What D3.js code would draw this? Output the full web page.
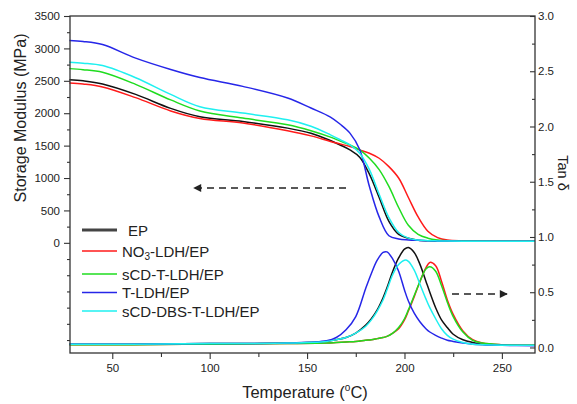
<!DOCTYPE html>
<html><head><meta charset="utf-8">
<script src="https://cdn.jsdelivr.net/npm/d3@7"></script>
<style>body{margin:0;background:#fff}svg{display:block}text{font-family:Arial,"Liberation Sans",sans-serif;fill:#222}</style>
</head><body><svg id="c" width="577" height="404"></svg>
<script>
// Storage modulus data (MPa)
const tempsE = [28, 35, 45, 62, 80, 95, 117, 140, 152, 162, 167, 172, 177, 182, 187, 192, 197, 202, 207, 212, 217, 222, 230, 245, 267];
const modEP      = [2518,2500,2451,2290,2075,1945,1873,1770,1690,1578,1510,1434,1321,1060,700,330,130,70,40,32,29,27,26,25,25];
const modNO3     = [2467,2450,2405,2240,2035,1918,1848,1728,1650,1563,1525,1485,1434,1383,1305,1176,1000,700,400,180,80,42,30,27,26];
const modSCDT    = [2688,2672,2631,2445,2205,2035,1925,1822,1730,1631,1570,1511,1434,1305,1130,870,545,270,130,72,45,33,27,25,25];
const modT       = [3122,3108,3060,2850,2675,2550,2414,2235,2080,1940,1830,1693,1440,870,400,110,60,45,38,33,30,28,26,25,25];
const modSCDDBS  = [2786,2772,2735,2548,2290,2100,2002,1899,1800,1666,1590,1511,1383,1130,750,390,160,72,42,33,30,28,26,25,25];
// Tan delta data
const tempsTan = [28, 60, 100, 140, 160, 165, 170, 175, 180, 183, 186, 189, 191, 194, 197, 200, 202, 205, 208, 211, 213, 216, 219, 222, 225, 230, 235, 240, 250, 267];
const tanEP     = [0.03,0.03,0.035,0.04,0.055,0.07,0.09,0.13,0.2,0.26,0.34,0.45,0.54,0.69,0.81,0.89,0.905,0.86,0.75,0.6,0.5,0.36,0.25,0.18,0.12,0.07,0.045,0.03,0.022,0.02];
const tanNO3    = [0.025,0.025,0.03,0.035,0.04,0.045,0.05,0.055,0.065,0.07,0.08,0.09,0.1,0.13,0.17,0.25,0.33,0.46,0.6,0.72,0.77,0.74,0.6,0.43,0.3,0.15,0.07,0.04,0.025,0.02];
const tanSCDT   = [0.025,0.025,0.03,0.035,0.04,0.045,0.05,0.055,0.065,0.07,0.08,0.09,0.1,0.13,0.18,0.26,0.34,0.47,0.6,0.71,0.73,0.69,0.56,0.41,0.28,0.14,0.065,0.04,0.025,0.02];
const tanT      = [0.03,0.03,0.035,0.04,0.06,0.09,0.16,0.28,0.53,0.67,0.79,0.86,0.865,0.8,0.69,0.52,0.42,0.31,0.23,0.17,0.14,0.11,0.085,0.065,0.055,0.04,0.03,0.025,0.02,0.015];
const tanSCDDBS = [0.03,0.03,0.035,0.04,0.055,0.07,0.09,0.13,0.19,0.25,0.33,0.43,0.52,0.66,0.75,0.79,0.78,0.7,0.57,0.44,0.36,0.26,0.17,0.11,0.075,0.045,0.03,0.025,0.02,0.02];

const seriesNames = ["EP", "NO3-LDH/EP", "sCD-T-LDH/EP", "T-LDH/EP", "sCD-DBS-T-LDH/EP"];
const seriesColors = ["#111111", "#ff1a1a", "#1fdc1f", "#2626e8", "#1ff0f0"];
const modSeries = [modEP, modNO3, modSCDT, modT, modSCDDBS];
const tanSeries = [tanEP, tanNO3, tanSCDT, tanT, tanSCDDBS];

const xTicks = [50, 100, 150, 200, 250];
const leftTicks = [0, 500, 1000, 1500, 2000, 2500, 3000, 3500];
const rightTicks = [0, 0.5, 1.0, 1.5, 2.0, 2.5, 3.0];

const L = 70, R = 535, T = 16, B = 353;
const svg = d3.select("#c");
const x = d3.scaleLinear().domain([28.3, 267]).range([L, R]);
const yL = d3.scaleLinear().domain([-1700, 3500]).range([B, T]);
const yR = d3.scaleLinear().domain([-0.05, 3.0]).range([B, T]);
const curve = d3.curveCatmullRom.alpha(0.5);

[0, 1, 2, 3, 4].forEach(i => {
  const line = d3.line().x((d, j) => x(tempsE[j])).y(d => yL(d)).curve(curve);
  svg.append("path").attr("d", line(modSeries[i])).attr("fill", "none")
    .attr("stroke", seriesColors[i]).attr("stroke-width", 1.5);
});
[0, 1, 2, 3, 4].forEach(i => {
  const line = d3.line().x((d, j) => x(tempsTan[j])).y(d => yR(d)).curve(curve);
  svg.append("path").attr("d", line(tanSeries[i])).attr("fill", "none")
    .attr("stroke", seriesColors[i]).attr("stroke-width", 1.5);
});

// frame
svg.append("rect").attr("x", L).attr("y", T).attr("width", R - L).attr("height", B - T)
  .attr("fill", "none").attr("stroke", "#333").attr("stroke-width", 1.3);

// bottom axis
svg.append("g").attr("transform", `translate(0,${B})`)
  .call(d3.axisBottom(x).tickValues(xTicks).tickSize(6).tickPadding(5).tickFormat(d3.format("d")));
svg.append("g").attr("transform", `translate(0,${B})`)
  .call(d3.axisBottom(x).tickValues([75, 125, 175, 225]).tickSize(4).tickFormat(""));
// left axis
svg.append("g").attr("transform", `translate(${L},0)`)
  .call(d3.axisLeft(yL).tickValues(leftTicks).tickSize(6).tickPadding(4).tickFormat(d3.format("d")));
svg.append("g").attr("transform", `translate(${L},0)`)
  .call(d3.axisLeft(yL).tickValues([-1500,-1250,-1000,-750,-500,-250,250,750,1250,1750,2250,2750,3250]).tickSize(3).tickFormat(""));
// right axis (inward ticks)
const gr = svg.append("g").attr("transform", `translate(${R},0)`)
  .call(d3.axisRight(yR).tickValues(rightTicks).tickSize(-5).tickPadding(3).tickFormat(d3.format(".1f")));
svg.append("g").attr("transform", `translate(${R},0)`)
  .call(d3.axisRight(yR).tickValues([0.25,0.75,1.25,1.75,2.25,2.75]).tickSize(-3).tickFormat(""));
svg.selectAll(".domain").attr("stroke", "none");
svg.selectAll(".tick line").attr("stroke", "#333").attr("stroke-width", 1.1);
svg.selectAll(".tick text").attr("font-size", 11.5).attr("fill", "#222")
  .style("font-family", 'Arial,"Liberation Sans",sans-serif');
gr.selectAll(".tick text").attr("x", 3);

// axis titles
svg.append("text").attr("transform", "translate(20,118) rotate(-90)").attr("text-anchor", "middle")
  .attr("dominant-baseline", "central").attr("font-size", 16).text("Storage Modulus (MPa)");
svg.append("text").attr("transform", "translate(563,173) rotate(90)").attr("text-anchor", "middle")
  .attr("dominant-baseline", "central").attr("font-size", 14.5).text("Tan δ");
const xt = svg.append("text").attr("x", 305).attr("y", 398).attr("text-anchor", "middle").attr("font-size", 16.5);
xt.append("tspan").text("Temperature (");
xt.append("tspan").attr("font-size", 10).attr("dy", -7).text("o");
xt.append("tspan").attr("dy", 7).text("C)");

// legend
const legY = [230, 251, 274, 292.5, 311];
seriesNames.forEach((n, i) => {
  svg.append("line").attr("x1", 82).attr("x2", 117).attr("y1", legY[i]).attr("y2", legY[i])
    .attr("stroke", i === 0 ? "#444" : seriesColors[i]).attr("stroke-width", i === 0 ? 3 : 1.5);
  const t = svg.append("text").attr("x", 122).attr("y", legY[i]).attr("dominant-baseline", "central").attr("font-size", 15);
  if (i === 1) {
    t.append("tspan").text("NO");
    t.append("tspan").attr("font-size", 10).attr("dy", 5).text("3");
    t.append("tspan").attr("dy", -5).text("-LDH/EP");
  } else if (i === 0) {
    t.attr("x", 128).text(n);
  } else t.text(n);
});

// arrows
svg.append("defs").append("marker").attr("id", "ah").attr("viewBox", "0 0 10 10").attr("refX", 9).attr("refY", 5)
  .attr("markerWidth", 11).attr("markerHeight", 8).attr("markerUnits", "userSpaceOnUse").attr("orient", "auto")
  .append("path").attr("d", "M0,0 L10,5 L0,10 z").attr("fill", "#222");
svg.append("line").attr("x1", 346).attr("y1", 188).attr("x2", 194).attr("y2", 188)
  .attr("stroke", "#222").attr("stroke-width", 1.5).attr("stroke-dasharray", "7,5").attr("marker-end", "url(#ah)");
svg.append("line").attr("x1", 452).attr("y1", 294).attr("x2", 507).attr("y2", 294)
  .attr("stroke", "#222").attr("stroke-width", 1.5).attr("stroke-dasharray", "7,5").attr("marker-end", "url(#ah)");
</script></body></html>
